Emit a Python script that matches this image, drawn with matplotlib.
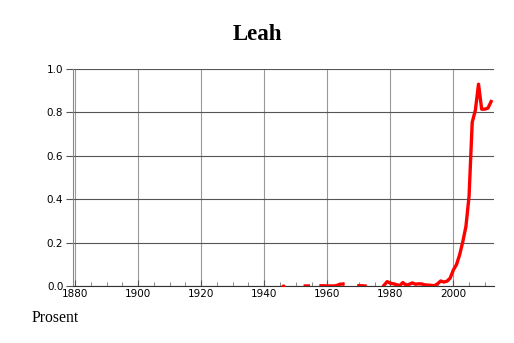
import numpy as np
import matplotlib
matplotlib.use("Agg")
import matplotlib.pyplot as plt
from matplotlib.ticker import MultipleLocator

# share of births (percent) named Leah, gaps = no data
years = list(range(1946, 2013))
nan = np.nan
share = [0.002, nan, nan, nan, nan, nan, nan,           # 1946-1952
         0.002, 0.002, nan, nan, nan,                   # 1953-1957
         0.003, 0.003, 0.002, 0.002, 0.002, 0.004, 0.010, 0.011,  # 1958-1965
         nan, nan, nan, nan,                            # 1966-1969
         0.003, 0.003, 0.002, nan, nan, nan, nan, nan,  # 1970-1977
         0.005, 0.022, 0.015, 0.012, 0.008, 0.004, 0.018, 0.005,  # 1978-1985
         0.010, 0.016, 0.010, 0.012, 0.011, 0.007, 0.006, 0.005,  # 1986-1993
         0.003, 0.012, 0.025, 0.020, 0.024, 0.038, 0.075, 0.100,  # 1994-2001
         0.145, 0.205, 0.275, 0.415, 0.755, 0.810, 0.930, 0.815,  # 2002-2009
         0.815, 0.820, 0.850]                           # 2010-2012

title = "Leah"
ylabel_text = "Prosent"

fig = plt.figure(figsize=(5.14, 3.43), dpi=100)
ax = fig.add_axes([0.142, 0.165, 0.819, 0.634])

ax.plot(years, share, color="#ff0000", lw=2.4, solid_joinstyle="round", zorder=3)

# isolated points (no neighbours) would vanish as a line, draw them as dots
arr = np.array(share)
padded = np.concatenate([[nan], arr, [nan]])
lone = ~np.isnan(arr) & np.isnan(padded[:-2]) & np.isnan(padded[2:])
ax.plot(np.array(years)[lone], arr[lone], "o", color="#ff0000", ms=3, mew=0, zorder=3)

ax.set_xlim(1879.3, 2012.9)
ax.set_ylim(0, 1.0)
ax.xaxis.set_major_locator(MultipleLocator(20))
ax.xaxis.set_minor_locator(MultipleLocator(5))
ax.yaxis.set_major_locator(MultipleLocator(0.2))
ax.yaxis.set_major_formatter(matplotlib.ticker.FormatStrFormatter("%.1f"))

ax.grid(axis="x", color="#999999", lw=0.8)
ax.grid(axis="y", color="#555555", lw=0.8)
ax.set_axisbelow(True)

for s in ["top", "right"]:
    ax.spines[s].set_visible(False)
ax.spines["left"].set_color("#888888")
ax.spines["left"].set_linewidth(0.8)
ax.spines["bottom"].set_color("#333333")
ax.spines["bottom"].set_linewidth(0.8)

ax.tick_params(axis="x", which="major", direction="in", length=4, color="#555555",
               labelsize=7.5, pad=2)
ax.tick_params(axis="x", which="minor", direction="in", length=3, color="#777777")
ax.tick_params(axis="y", direction="out", length=5, color="#555555", labelsize=7.5, pad=2)
for lab in ax.get_xticklabels() + ax.get_yticklabels():
    lab.set_family("DejaVu Sans")

fig.text(0.5, 0.9, title, ha="center", va="center", fontsize=16.5, fontweight="bold",
         family="Liberation Serif")
fig.text(0.062, 0.073, ylabel_text, ha="left", va="center", fontsize=11.3,
         family="Liberation Serif")

fig.savefig("out.png", dpi=100)
